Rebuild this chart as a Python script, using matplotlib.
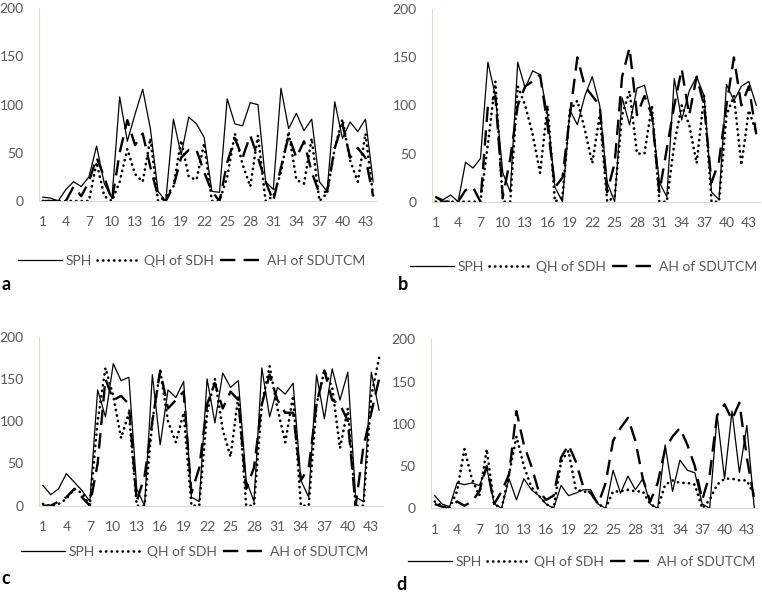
import matplotlib
matplotlib.use("Agg")
import matplotlib.pyplot as plt
import numpy as np

plt.rcParams['font.family'] = ['Lato', 'DejaVu Sans']

days = list(range(1, 45))
xtick_vals = list(range(1, 44, 3))
ytick_vals = [0, 50, 100, 150, 200]
series_names = ["SPH", "QH of SDH", "AH of SDUTCM"]

# panel a
a_sph = [4, 3, 0, 12, 20, 15, 25, 57, 18, 3, 108, 62, 90, 116, 75, 10, 0, 85, 48, 87,
         80, 66, 10, 9, 106, 80, 78, 102, 100, 20, 12, 117, 75, 91, 73, 85, 20, 10, 103, 65,
         82, 72, 85, 20]
a_qh = [0, 0, 0, 0, 0, 0, 0, 40, 5, 0, 20, 54, 28, 20, 65, 0, 5, 15, 63, 25,
        22, 60, 0, 0, 25, 70, 38, 15, 68, 0, 5, 30, 72, 22, 18, 65, 0, 8, 55, 85,
        42, 20, 70, 5]
a_ah = [0, 0, 0, 0, 15, 5, 20, 45, 25, 0, 50, 84, 58, 70, 35, 5, 0, 15, 45, 53,
        53, 30, 10, 0, 40, 65, 45, 68, 45, 20, 0, 35, 68, 45, 62, 30, 8, 10, 55, 80,
        45, 55, 45, 5]

# panel b
b_sph = [5, 2, 7, 0, 41, 35, 45, 145, 110, 30, 10, 145, 118, 136, 132, 90, 15, 0, 95, 80,
         110, 130, 100, 20, 0, 108, 80, 118, 121, 90, 20, 5, 128, 85, 115, 130, 110, 10, 2, 122,
         105, 120, 125, 100]
b_qh = [0, 0, 0, 0, 0, 0, 0, 60, 125, 0, 0, 120, 100, 70, 30, 100, 0, 5, 95, 105,
        75, 40, 90, 0, 5, 90, 115, 50, 50, 100, 0, 0, 60, 100, 80, 40, 110, 0, 0, 90,
        110, 38, 95, 72]
b_ah = [5, 0, 0, 0, 12, 15, 0, 100, 110, 5, 45, 100, 120, 125, 132, 80, 15, 25, 90, 150,
        120, 110, 100, 10, 40, 130, 160, 90, 110, 90, 10, 55, 100, 138, 90, 130, 100, 20, 42, 100,
        150, 100, 120, 70]

# panel c
c_sph = [24, 13, 20, 38, 28, 18, 5, 137, 105, 168, 148, 152, 20, 0, 155, 72, 137, 128, 147, 10,
         5, 150, 98, 157, 140, 148, 30, 5, 163, 105, 140, 132, 145, 30, 10, 155, 103, 162, 125, 158,
         10, 5, 158, 113]
c_qh = [2, 0, 2, 8, 20, 15, 0, 100, 163, 130, 80, 110, 0, 0, 100, 160, 100, 75, 110, 0,
        0, 110, 150, 90, 58, 130, 0, 0, 120, 165, 115, 75, 130, 0, 0, 120, 160, 140, 68, 115,
        0, 0, 130, 175]
c_ah = [0, 0, 5, 10, 20, 10, 0, 50, 150, 125, 130, 120, 5, 35, 100, 160, 115, 125, 135, 15,
        45, 120, 145, 115, 135, 125, 20, 45, 120, 155, 125, 110, 110, 30, 45, 120, 160, 125, 120, 100,
        0, 70, 110, 150]

# panel d
d_sph = [15, 5, 2, 30, 28, 30, 27, 48, 5, 0, 35, 10, 35, 22, 15, 5, 0, 27, 15, 18,
         22, 22, 5, 0, 45, 18, 38, 22, 35, 5, 0, 75, 20, 57, 45, 42, 5, 0, 110, 35,
         115, 42, 98, 0]
d_qh = [8, 3, 0, 20, 70, 35, 15, 70, 5, 0, 40, 85, 50, 25, 15, 5, 0, 55, 68, 22,
        20, 18, 5, 0, 20, 20, 22, 20, 20, 5, 0, 28, 33, 30, 30, 28, 0, 10, 28, 35,
        35, 33, 33, 15]
d_ah = [5, 2, 0, 8, 3, 8, 20, 50, 5, 20, 40, 115, 75, 50, 20, 10, 15, 60, 75, 55,
        25, 18, 5, 30, 80, 95, 107, 80, 35, 8, 30, 70, 85, 95, 75, 50, 10, 40, 110, 123,
        105, 125, 60, 10]

W, H = 762, 596
fig = plt.figure(figsize=(W / 100, H / 100), dpi=100)

# letter, data, axes box in px (left, right, top, bottom), legend left/centre y, letter position
panels = [
    ("a", (a_sph, a_qh, a_ah), (39, 377, 8.3, 201), (18, 261), (1, 284)),
    ("b", (b_sph, b_qh, b_ah), (432, 760, 9.3, 201.7), (410, 267), (398, 284)),
    ("c", (c_sph, c_qh, c_ah), (39, 383, 336.7, 505.7), (21, 552), (1, 578)),
    ("d", (d_sph, d_qh, d_ah), (431, 758, 339.3, 508.3), (408, 562), (396, 585)),
]

styles = [
    dict(color="black", lw=0.9, ls="-"),
    dict(color="black", lw=1.9, ls=(0, (0.1, 2.0)), dash_capstyle="round"),
    dict(color="black", lw=1.7, ls=(0, (6.5, 3.5))),
]

for letter, data, box, leg_pos, let_pos in panels:
    l, r, t, b = box
    ax = fig.add_axes([l / W, 1 - b / H, (r - l) / W, (b - t) / H])
    lines = []
    for vals, name, st in zip(data, series_names, styles):
        ln, = ax.plot(days, vals, label=name, **st)
        lines.append(ln)
    ax.set_xlim(0.5, 44.5)
    ax.set_ylim(0, 200)
    ax.set_xticks(xtick_vals)
    ax.set_yticks(ytick_vals)
    ax.tick_params(length=0, labelsize=10, labelcolor="#595959")
    ax.tick_params(axis="x", pad=11)
    ax.tick_params(axis="y", pad=11)
    for s in ["top", "right"]:
        ax.spines[s].set_visible(False)
    ax.spines["left"].set_color("#DDDBC0")
    ax.spines["bottom"].set_color("#D9D9D9")
    ax.patch.set_alpha(0)

    fig.legend(handles=lines, loc="center left", bbox_to_anchor=(leg_pos[0] / W, 1 - leg_pos[1] / H),
               ncol=3, frameon=False, fontsize=10, labelcolor="#595959",
               handlelength=3.2, handletextpad=0.2, columnspacing=0.4,
               borderpad=0, borderaxespad=0)
    fig.text(let_pos[0] / W, 1 - let_pos[1] / H, letter, fontsize=13, fontweight="bold",
             ha="left", va="center")

fig.savefig("out.png", dpi=100)
